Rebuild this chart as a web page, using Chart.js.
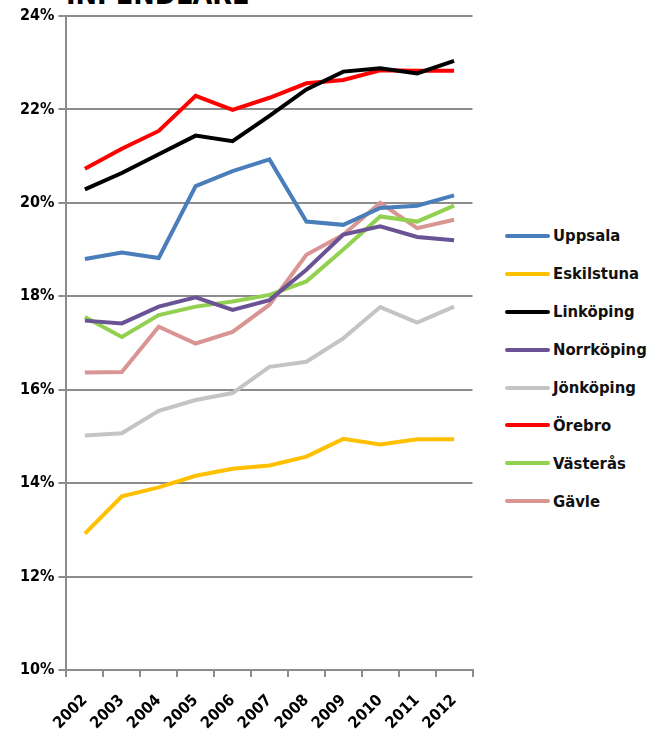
<!DOCTYPE html>
<html>
<head>
<meta charset="utf-8">
<script src="https://cdn.jsdelivr.net/npm/chart.js@4.4.1/dist/chart.umd.min.js"></script>
<style>
  body { margin: 0; background: #fff; width: 654px; height: 729px; overflow: hidden; position: relative; font-family: "DejaVu Sans Condensed", "Liberation Sans Narrow", Arial, sans-serif; }
  #title { position: absolute; left: 66px; top: -19px; font-size: 28.5px; font-weight: bold; color: #000; line-height: 1; white-space: nowrap; }
  #wrap { position: absolute; left: 0; top: 0; width: 482px; height: 729px; }
  #legend { position: absolute; left: 505px; top: 217px; }
  .item { height: 37.9px; display: flex; align-items: center; font-weight: bold; font-size: 16.5px; color: #111; }
  .item span.sw { display: inline-block; width: 45px; height: 4px; border-radius: 2px; margin-right: 3px; }
</style>
</head>
<body>
<div id="title">INPENDLARE</div>
<div id="wrap"><canvas id="lineChart"></canvas></div>
<div id="legend"></div>
<script>
  const years = ["2002", "2003", "2004", "2005", "2006", "2007", "2008", "2009", "2010", "2011", "2012"];
  const cities = ["Uppsala", "Eskilstuna", "Linköping", "Norrköping", "Jönköping", "Örebro", "Västerås", "Gävle"];
  const colors = ["#4a7ebb", "#ffc000", "#000000", "#6a5394", "#c4c4c4", "#ff0000", "#92d050", "#d99594"];

  const uppsala    = [18.80, 18.94, 18.82, 20.36, 20.68, 20.93, 19.60, 19.53, 19.89, 19.94, 20.16];
  const eskilstuna = [12.92, 13.72, 13.91, 14.16, 14.31, 14.38, 14.57, 14.95, 14.83, 14.94, 14.94];
  const linkoping  = [20.29, 20.64, 21.04, 21.44, 21.32, 21.86, 22.43, 22.81, 22.88, 22.77, 23.04];
  const norrkoping = [17.48, 17.42, 17.78, 17.98, 17.71, 17.92, 18.57, 19.32, 19.50, 19.27, 19.20];
  const jonkoping  = [15.02, 15.07, 15.55, 15.78, 15.93, 16.49, 16.60, 17.10, 17.77, 17.44, 17.78];
  const orebro     = [20.73, 21.16, 21.54, 22.29, 21.99, 22.25, 22.56, 22.63, 22.84, 22.83, 22.83];
  const vasteras   = [17.56, 17.13, 17.60, 17.78, 17.89, 18.03, 18.32, 19.00, 19.71, 19.60, 19.94];
  const gavle      = [16.37, 16.38, 17.35, 16.99, 17.24, 17.82, 18.89, 19.32, 20.00, 19.46, 19.64];

  const series = [uppsala, eskilstuna, linkoping, norrkoping, jonkoping, orebro, vasteras, gavle];
  const yTicks = [10, 12, 14, 16, 18, 20, 22, 24];

  const legendEl = document.getElementById("legend");
  cities.forEach((c, i) => {
    const d = document.createElement("div");
    d.className = "item";
    d.innerHTML = '<span class="sw" style="background:' + colors[i] + '"></span>' + c;
    legendEl.appendChild(d);
  });

  const font = { family: "'DejaVu Sans Condensed', 'Liberation Sans Narrow', Arial, sans-serif", weight: "bold", size: 16 };

  const ctx = document.getElementById("lineChart").getContext("2d");
  new Chart(ctx, {
    type: "line",
    data: {
      labels: years,
      datasets: series.map((s, i) => ({
        label: cities[i],
        data: s,
        borderColor: colors[i],
        backgroundColor: colors[i],
        borderWidth: 4,
        pointRadius: 0,
        tension: 0,
      })),
    },
    options: {
      responsive: true,
      maintainAspectRatio: false,
      animation: false,
      layout: { padding: { top: 16, right: 8, left: 16, bottom: -18 } },
      plugins: { legend: { display: false }, tooltip: { enabled: false } },
      scales: {
        x: {
          offset: true,
          grid: { display: true, drawOnChartArea: false, drawTicks: true, tickLength: 7, color: "#8c8c8c", lineWidth: 2, offset: true },
          border: { color: "#8c8c8c", width: 2 },
          ticks: { color: "#000", font: { ...font, size: 16 }, maxRotation: 45, minRotation: 45, padding: 14 },
        },
        y: {
          min: 10,
          max: 24,
          afterBuildTicks: (axis) => { axis.ticks = yTicks.map((v) => ({ value: v })); },
          grid: { color: "#8c8c8c", lineWidth: 2, tickLength: 8 },
          border: { color: "#8c8c8c", width: 2 },
          ticks: { color: "#000", font: font, padding: 4, callback: (v) => v + "%" },
        },
      },
    },
  });
</script>
</body>
</html>
